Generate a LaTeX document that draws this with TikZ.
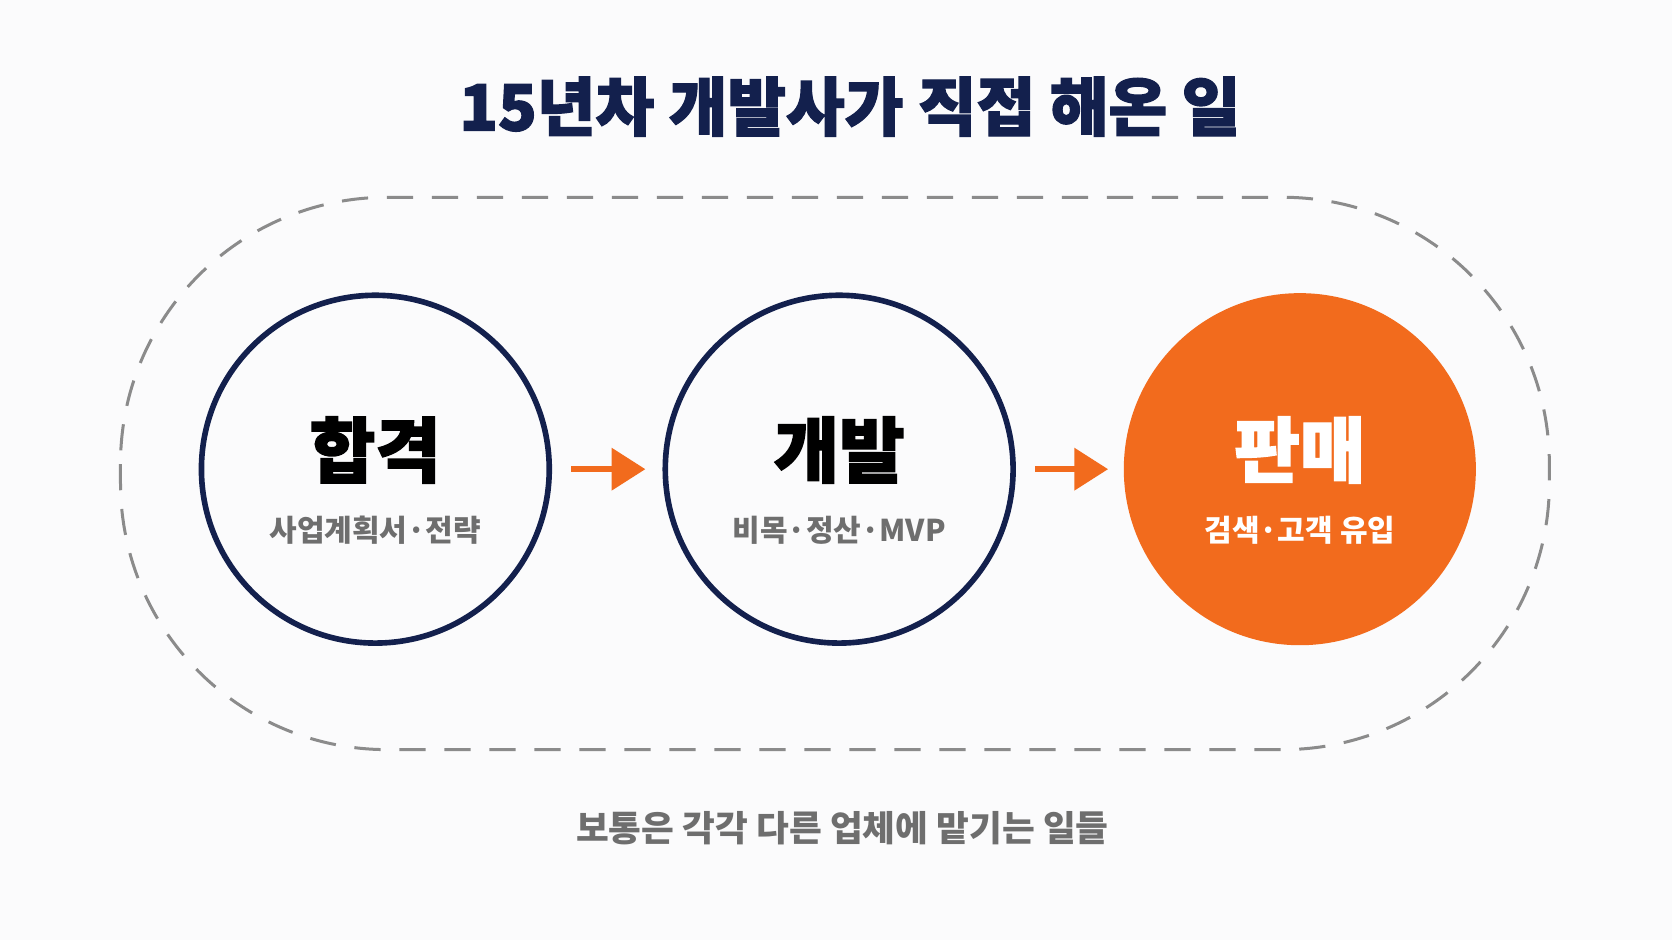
\documentclass[tikz,border=0pt]{standalone}
\usepackage{fontspec}
\usetikzlibrary{arrows.meta,calc}
\setmainfont{Noto Sans CJK KR}
\newfontfamily\kb{Noto Sans CJK KR}[BoldFeatures={FakeBold=2}]
\definecolor{navy}{HTML}{13204D}
\definecolor{org}{HTML}{F26B1D}
\definecolor{gr}{HTML}{6E6E6E}
\definecolor{bg}{HTML}{FBFBFC}
\begin{document}
\begin{tikzpicture}[x=0.01cm,y=-0.01cm,
  ring/.style={circle,draw=navy,line width=1.5pt,minimum size=3.26cm,inner sep=0},
  mainlbl/.style={font=\kb\bfseries\fontsize{19}{22}\selectfont},
  sublbl/.style={font=\bfseries\fontsize{8}{10}\selectfont,text=gr},
  arr/.style={draw=org,line width=1.6pt,-{Triangle[length=9pt,width=11pt]}}]
\fill[bg] (0,0) rectangle (1568,882);
\useasboundingbox (0,0) rectangle (1568,882);
\node[text=navy,font=\kb\bfseries\fontsize{17}{20}\selectfont] (title) at (797,100) {15년차 개발사가 직접 해온 일};
\draw[gr!80,dash pattern=on 7pt off 5pt,line width=0.8pt,rounded corners=2.5cm] (113,185) rectangle (1453,703);
\node[ring] (c1) at (352,440) {};
\node[ring] (c2) at (787,440) {};
\node[circle,fill=org,minimum size=3.3cm,inner sep=0] (c3) at (1219,440) {};
\node[mainlbl,text=black] (t1) at (352,422) {합격};
\node[sublbl] (s1) at (352,497) {사업계획서·전략};
\node[mainlbl,text=black] (t2) at (787,422) {개발};
\node[sublbl] (s2) at (787,497) {비목·정산·MVP};
\node[mainlbl,text=white] (t3) at (1219,422) {판매};
\node[sublbl,text=white] (s3) at (1219,497) {검색·고객 유입};
\draw[arr] ($(c1.east)+(18,0)$) -- ($(c2.west)+(-16,0)$);
\draw[arr] ($(c2.east)+(18,0)$) -- ($(c3.west)+(-14,0)$);
\node[font=\bfseries\fontsize{9.5}{12}\selectfont,text=gr] (bot) at (790,777) {보통은 각각 다른 업체에 맡기는 일들};
\end{tikzpicture}
\end{document}
